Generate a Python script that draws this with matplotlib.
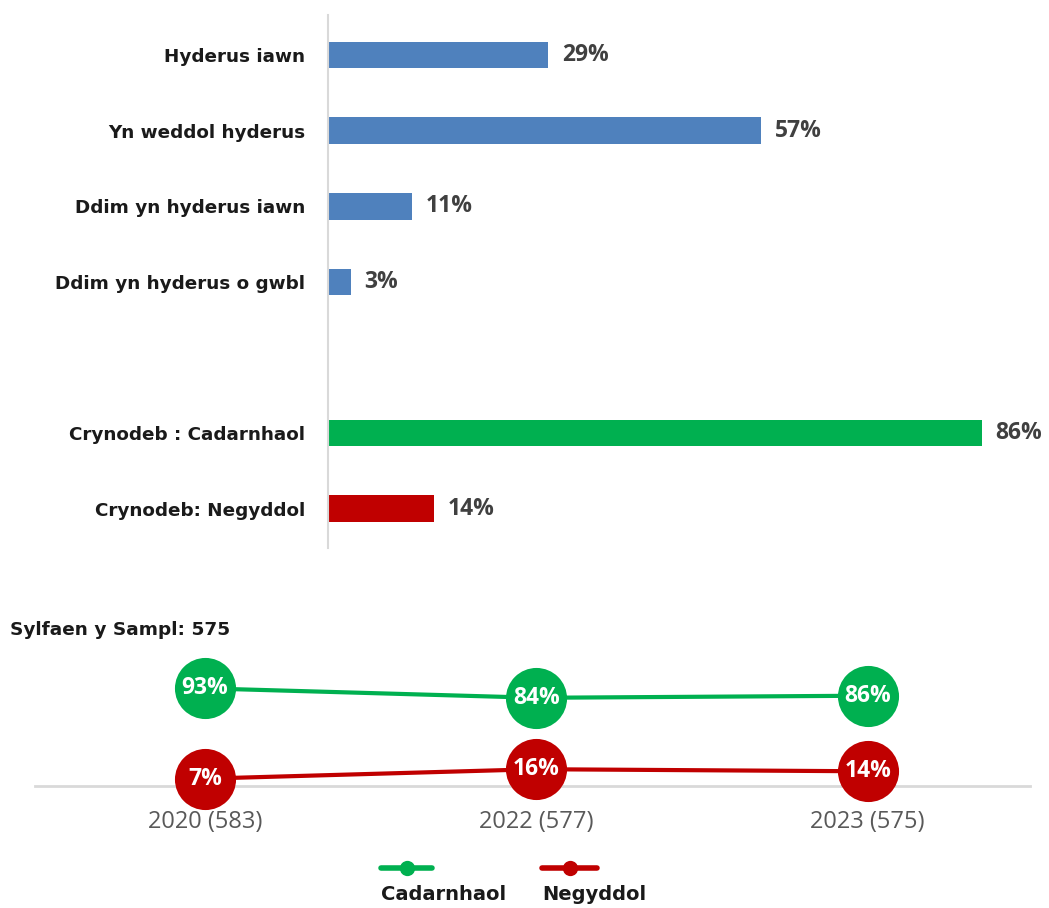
import matplotlib
matplotlib.use("Agg")
import matplotlib.pyplot as plt
from matplotlib.lines import Line2D

categories = ["Hyderus iawn", "Yn weddol hyderus", "Ddim yn hyderus iawn",
              "Ddim yn hyderus o gwbl", "", "Crynodeb : Cadarnhaol", "Crynodeb: Negyddol"]
values = [29, 57, 11, 3, None, 86, 14]
bar_colors = ["#4F81BD", "#4F81BD", "#4F81BD", "#4F81BD", None, "#00B050", "#C00000"]

years = ["2020 (583)", "2022 (577)", "2023 (575)"]
positive = [93, 84, 86]
negative = [7, 16, 14]
series_names = ["Cadarnhaol", "Negyddol"]
base_label = "Sylfaen y Sampl: 575"

GREEN = "#00B050"
RED = "#C00000"
W, H = 1049, 908
LABEL_FONT = ['DejaVu Sans']
NUM_FONT = ['Open Sans', 'DejaVu Sans']

plt.rcParams['font.family'] = NUM_FONT
fig = plt.figure(figsize=(W / 100, H / 100), dpi=100)

def px_axes(x0, y0, x1, y1):
    return fig.add_axes([x0 / W, 1 - y1 / H, (x1 - x0) / W, (y1 - y0) / H])

# ---- top bar chart ----
ax = px_axes(328, 15, 1049, 548)
pos = list(range(len(categories)))
for p, v, c in zip(pos, values, bar_colors):
    if v is None:
        continue
    ax.barh(p, v, height=0.35, color=c, edgecolor="none")
    ax.text(v + 1.8, p, f"{v}%", va="center", ha="left", fontsize=16.5,
            fontweight="bold", color="#404040", family=NUM_FONT)
ax.set_xlim(0, (1049 - 328) / 7.6)
ax.set_ylim(6.52, -0.53)
ax.set_yticks([p for p, v in zip(pos, values) if v is not None])
ax.set_yticklabels([c for c, v in zip(categories, values) if v is not None],
                   fontsize=13.2, fontweight="bold", color="#1a1a1a", family=LABEL_FONT)
ax.tick_params(axis="y", length=0, pad=16.5)
ax.set_xticks([])
for s in ["top", "right", "bottom"]:
    ax.spines[s].set_visible(False)
ax.spines["left"].set_color("#D9D9D9")
ax.spines["left"].set_linewidth(1.5)

# ---- bottom line chart ----
fig.text(10 / W, 1 - 630 / H, base_label, fontsize=13.3, fontweight="bold",
         color="#1a1a1a", va="center", ha="left", family=LABEL_FONT)

ax2 = px_axes(35, 640, 1030, 786)
x = list(range(len(years)))
ax2.plot(x, positive, color=GREEN, lw=3, marker="o", ms=44, mec="none", clip_on=False, zorder=3)
ax2.plot(x, negative, color=RED, lw=3, marker="o", ms=44, mec="none", clip_on=False, zorder=3)
for xi, v in zip(x, positive):
    ax2.text(xi, v, f"{v}%", ha="center", va="center", color="white",
             fontsize=16.5, fontweight="bold", zorder=4)
for xi, v in zip(x, negative):
    ax2.text(xi, v, f"{v}%", ha="center", va="center", color="white",
             fontsize=16.5, fontweight="bold", zorder=4)
ax2.set_xlim(-0.513, 2.49)
ax2.set_ylim(0, (786 - 640) / 1.05)
ax2.set_xticks(x)
ax2.set_xticklabels(years, fontsize=17, color="#595959")
ax2.tick_params(axis="x", length=0, pad=17)
ax2.set_yticks([])
for s in ["top", "right", "left"]:
    ax2.spines[s].set_visible(False)
ax2.spines["bottom"].set_color("#D9D9D9")
ax2.spines["bottom"].set_linewidth(2)
ax2.spines["bottom"].set_zorder(1)
ax2.patch.set_visible(False)

# ---- legend ----
for (x0, x1), col, name in zip([(381, 432), (542, 597)], [GREEN, RED], series_names):
    yl = 1 - 868 / H
    fig.add_artist(Line2D([x0 / W, x1 / W], [yl, yl], color=col, lw=4,
                          solid_capstyle="round"))
    fig.add_artist(Line2D([(x0 + x1) / 2 / W], [yl], color=col, marker="o", ms=11, mec="none"))
    fig.text(x0 / W, 1 - 895 / H, name, fontsize=14, fontweight="bold",
             color="#1a1a1a", va="center", ha="left", family=LABEL_FONT)

fig.savefig("out.png", dpi=100)
